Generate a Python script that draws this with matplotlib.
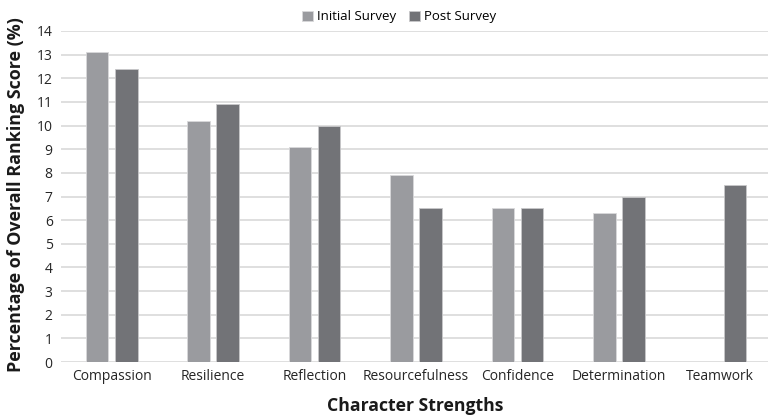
import matplotlib.pyplot as plt
import numpy as np

# character strength rankings, initial vs post survey
strengths = ["Compassion", "Resilience", "Reflection", "Resourcefulness",
             "Confidence", "Determination", "Teamwork"]
initial_survey = [13.1, 10.2, 9.1, 7.9, 6.5, 6.3, 0.0]
post_survey = [12.4, 10.9, 10.0, 6.5, 6.5, 7.0, 7.5]
y_ticks = list(range(0, 15))

plt.rcParams['font.family'] = ['Open Sans', 'DejaVu Sans']

fig = plt.figure(figsize=(7.68, 4.18), dpi=100)
ax = fig.add_axes([61 / 768, 1 - 362 / 418, 710 / 768, 331 / 418])

x = np.arange(len(strengths))
w = 0.222
off = 0.144
ax.bar(x - off, initial_survey, w, color="#9a9b9f", edgecolor="#d8d8da",
       linewidth=0.6, label="Initial Survey", zorder=3)
ax.bar(x + off, post_survey, w, color="#727377", edgecolor="#c8c8ca",
       linewidth=0.6, label="Post Survey", zorder=3)

ax.set_xlim(-0.5, len(strengths) - 0.5)
ax.set_ylim(0, 14)
ax.set_yticks(y_ticks)
ax.set_xticks(x)
ax.set_xticklabels(strengths, fontsize=10, color="#262626")
ax.tick_params(axis="y", labelsize=10, labelcolor="#262626", length=0, pad=6)
ax.tick_params(axis="x", length=0, pad=5)
ax.grid(axis="y", color="#d9d9d9", linewidth=1.2, zorder=0)
for s in ax.spines.values():
    s.set_visible(False)

ax.set_ylabel("Percentage of Overall Ranking Score (%)", fontsize=12.9,
              fontweight="bold", color="#1a1a1a")
ax.yaxis.set_label_coords(-36 / 710, 0.505)
ax.set_xlabel("Character Strengths", fontsize=12.7, fontweight="bold",
              color="#1a1a1a")
ax.xaxis.set_label_coords((415 - 61) / 710, -0.105)

ax.legend(loc="upper center", bbox_to_anchor=((399 - 61) / 710, 1.098), ncol=2,
          frameon=False, fontsize=9.5, handlelength=0.8, handleheight=0.8,
          handletextpad=0.3, columnspacing=1.0)

plt.savefig("out.png", dpi=100)
